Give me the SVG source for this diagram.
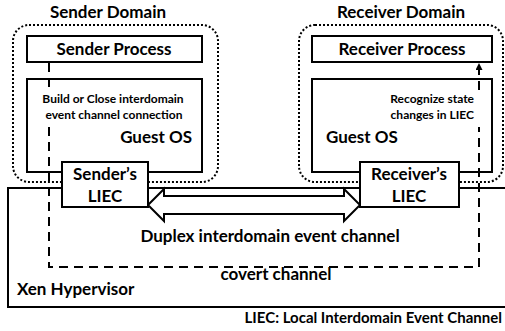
<svg xmlns="http://www.w3.org/2000/svg" width="505" height="331" viewBox="0 0 505 331">
<style>
.box{fill:#fff;stroke:#000;stroke-width:2}
.dom{fill:none;stroke:#000;stroke-width:2;stroke-dasharray:2,2}
.t{font-family:Lato,"Liberation Sans",sans-serif;font-weight:bold;fill:#000}
.big{font-size:17px}
.sm{font-size:12px}
.dash{fill:none;stroke:#000;stroke-width:2;stroke-dasharray:9,6}
</style>
<defs>
<marker id="ah" viewBox="0 0 10 10" refX="10" refY="5" markerWidth="7" markerHeight="7" markerUnits="userSpaceOnUse" orient="auto">
<path d="M0,0 L10,5 L0,10 z" fill="#000"/>
</marker>
</defs>
<rect width="505" height="331" fill="#fff"/>
<g id="sender-domain">
<rect class="dom" x="13" y="25" width="205" height="157" rx="16"/>
<text class="t big" x="108" y="18" text-anchor="middle">Sender Domain</text>
</g>
<g id="receiver-domain">
<rect class="dom" x="299" y="25" width="204" height="157" rx="16"/>
<text class="t big" x="401" y="18" text-anchor="middle">Receiver Domain</text>
</g>
<g id="xen-hypervisor">
<rect class="box" x="8" y="188" width="510" height="119"/>
<text class="t big" x="17" y="295">Xen Hypervisor</text>
</g>
<g id="sender-guest-os">
<rect class="box" x="27" y="79" width="175" height="93"/>
<text class="t big" x="192" y="143" text-anchor="end">Guest OS</text>
</g>
<g id="receiver-guest-os">
<rect class="box" x="312" y="79" width="180" height="93"/>
<text class="t big" x="326" y="143">Guest OS</text>
</g>
<g id="sender-process">
<rect class="box" x="27" y="36" width="175" height="26"/>
<text class="t big" x="114" y="55" text-anchor="middle">Sender Process</text>
</g>
<g id="receiver-process">
<rect class="box" x="312" y="36" width="180" height="26"/>
<text class="t big" x="402" y="55" text-anchor="middle">Receiver Process</text>
</g>
<g id="connectors">
<polygon class="box" points="148,205 164,189 164,196 344,196 344,189 360,205 344,221 344,214 164,214 164,221"/>
<text class="t big" x="270" y="242" text-anchor="middle">Duplex interdomain event channel</text>
<path class="dash" d="M49,63 V90"/>
<path class="dash" d="M49,127 V267 H479 V127"/>
<path class="dash" d="M479,90 V63" marker-end="url(#ah)"/>
<text class="t big" x="276" y="280" text-anchor="middle">covert channel</text>
<text class="t sm" x="113" y="103" text-anchor="middle">Build or Close interdomain</text>
<text class="t sm" x="114" y="119" text-anchor="middle">event channel connection</text>
<text class="t sm" x="474" y="103" text-anchor="end">Recognize state</text>
<text class="t sm" x="474" y="119" text-anchor="end">changes in LIEC</text>
</g>
<g id="sender-liec">
<rect class="box" x="62" y="162" width="86" height="45"/>
<text class="t big" x="105" y="180" text-anchor="middle">Sender’s</text>
<text class="t big" x="105" y="202" text-anchor="middle">LIEC</text>
</g>
<g id="receiver-liec">
<rect class="box" x="360" y="162" width="99" height="45"/>
<text class="t big" x="409" y="180" text-anchor="middle">Receiver’s</text>
<text class="t big" x="409" y="202" text-anchor="middle">LIEC</text>
</g>
<g id="legend">
<text class="t" font-size="15" x="502" y="323" text-anchor="end">LIEC: Local Interdomain Event Channel</text>
</g>
</svg>
